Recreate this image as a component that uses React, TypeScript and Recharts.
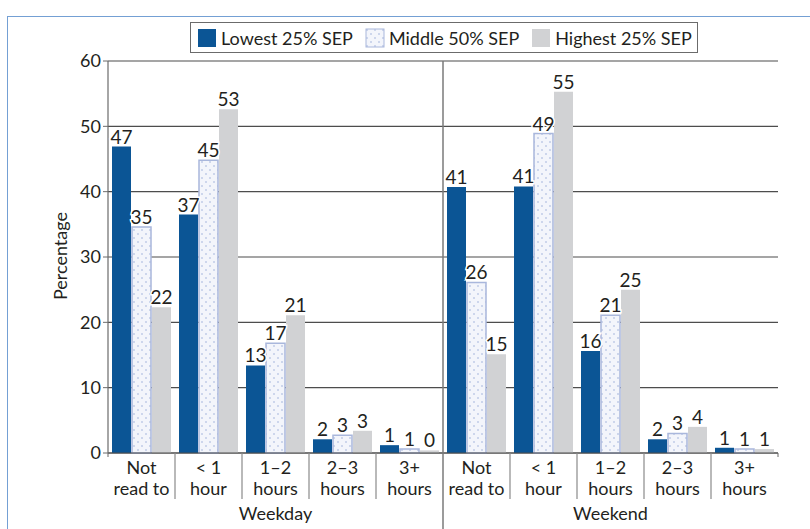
import React from "react";
import { BarChart, Bar, XAxis, YAxis, CartesianGrid, LabelList } from "recharts";

// categories (two lines each), repeated for weekday and weekend
const CATEGORY_LINES = [
  ["Not", "read to"],
  ["< 1", "hour"],
  ["1–2", "hours"],
  ["2–3", "hours"],
  ["3+", "hours"],
];
const PERIODS = ["Weekday", "Weekend"];

const SERIES_NAMES = ["Lowest 25% SEP", "Middle 50% SEP", "Highest 25% SEP"];

// bar heights
const LOWEST = [46.9, 36.5, 13.4, 2.1, 1.2, 40.7, 40.8, 15.6, 2.1, 0.8];
const MIDDLE = [34.6, 44.8, 16.8, 2.7, 0.6, 26.1, 48.9, 21.1, 3.0, 0.6];
const HIGHEST = [22.3, 52.6, 21.1, 3.4, 0.4, 15.1, 55.3, 25.0, 4.0, 0.6];

// printed (rounded) values
const LOWEST_LABELS = [47, 37, 13, 2, 1, 41, 41, 16, 2, 1];
const MIDDLE_LABELS = [35, 45, 17, 3, 1, 26, 49, 21, 3, 1];
const HIGHEST_LABELS = [22, 53, 21, 3, 0, 15, 55, 25, 4, 1];

const Y_TICKS = [0, 10, 20, 30, 40, 50, 60];

const W = 810;
const H = 529;
const PLOT_TOP = 61;
const PLOT_BOTTOM = 453;
const PLOT_LEFT = 108;
const PLOT_RIGHT = 778;
const FONT = "Lato, 'Open Sans', sans-serif";
const TEXT = "#231f20";

const BLUE = "#0b5595";
const GREY = "#d1d2d4";
const DOT_BORDER = "#a9b7dc";

const rows = LOWEST.map((v, i) => ({
  cat: String(i),
  lowest: v,
  middle: MIDDLE[i],
  highest: HIGHEST[i],
  lowestLbl: LOWEST_LABELS[i],
  middleLbl: MIDDLE_LABELS[i],
  highestLbl: HIGHEST_LABELS[i],
}));

const BAND = (PLOT_RIGHT - PLOT_LEFT) / rows.length;

function XTick(props: any) {
  const { x, index } = props;
  const lines = CATEGORY_LINES[index % CATEGORY_LINES.length];
  const left = x - BAND / 2;
  return (
    <g>
      {index % 5 !== 0 && (
        <line x1={left} x2={left} y1={PLOT_BOTTOM} y2={PLOT_BOTTOM + 46} stroke="#8a8a8a" strokeWidth={1.2} />
      )}
      {index === 5 && (
        <line x1={left} x2={left} y1={PLOT_TOP} y2={H} stroke="#7a7a7a" strokeWidth={1.5} />
      )}
      {index === 0 && (
        <line x1={left} x2={left} y1={PLOT_BOTTOM} y2={PLOT_BOTTOM + 4} stroke="#666" />
      )}
      {index === rows.length - 1 && (
        <line x1={left + BAND} x2={left + BAND} y1={PLOT_BOTTOM} y2={PLOT_BOTTOM + 4} stroke="#666" />
      )}
      <text x={x} y={474} textAnchor="middle" fontSize={18} fontFamily={FONT} fill={TEXT}>
        {lines[0]}
      </text>
      <text x={x} y={495} textAnchor="middle" fontSize={18} fontFamily={FONT} fill={TEXT}>
        {lines[1]}
      </text>
      {index % 5 === 2 && (
        <text x={x} y={520} textAnchor="middle" fontSize={18} fontFamily={FONT} fill={TEXT}>
          {PERIODS[Math.floor(index / 5)]}
        </text>
      )}
    </g>
  );
}

function ValueLabel(props: any) {
  const { x, y, width, value } = props;
  return (
    <text
      x={x + width / 2}
      y={y - 3}
      textAnchor="middle"
      fontSize={19}
      fontFamily={FONT}
      fill={TEXT}
      stroke="#fff"
      strokeWidth={3}
      paintOrder="stroke"
    >
      {value}
    </text>
  );
}

function Swatch({ kind }: { kind: number }) {
  if (kind === 1) {
    return (
      <svg width={20} height={20}>
        <defs>
          <pattern id="legDots" width="8" height="8" patternUnits="userSpaceOnUse">
            <rect width="8" height="8" fill="#f3f5fb" />
            <circle cx="2" cy="2" r="0.8" fill="#9dafd9" />
            <circle cx="6" cy="6" r="0.8" fill="#9dafd9" />
          </pattern>
        </defs>
        <rect x={1} y={1} width={18} height={18} fill="url(#legDots)" stroke={DOT_BORDER} strokeWidth={1} />
      </svg>
    );
  }
  return (
    <svg width={20} height={20}>
      <rect x={1} y={1} width={18} height={18} fill={kind === 0 ? BLUE : GREY} />
    </svg>
  );
}

export default function App() {
  return (
    <div style={{ position: "absolute", left: 0, top: 0, width: W, height: H, overflow: "hidden", background: "#fff" }}>
      {/* figure frame */}
      <div
        style={{
          position: "absolute",
          left: 7,
          top: 16,
          width: 900,
          height: 700,
          border: "1.5px solid #74a0d4",
          boxSizing: "border-box",
        }}
      />
      {/* legend box */}
      <div
        style={{
          position: "absolute",
          left: 190,
          top: 22,
          width: 508,
          height: 31,
          border: "1px solid #6b6b6b",
          boxSizing: "border-box",
          display: "flex",
          alignItems: "center",
          fontFamily: FONT,
          fontSize: 18,
          color: TEXT,
          background: "#fff",
          zIndex: 2,
        }}
      >
        {SERIES_NAMES.map((name, i) => (
          <div key={name} style={{ display: "flex", alignItems: "center", marginLeft: i === 0 ? 6 : 12 }}>
            <Swatch kind={i} />
            <span style={{ marginLeft: 4 }}>{name}</span>
          </div>
        ))}
      </div>
      <div style={{ position: "absolute", left: 0, top: 0 }}>
        <BarChart
          width={W}
          height={H}
          data={rows}
          margin={{ top: PLOT_TOP, right: W - PLOT_RIGHT, bottom: 0, left: 48 }}
          barCategoryGap={4}
          barGap={1}
        >
          <defs>
            <pattern id="dots" width="8" height="8" patternUnits="userSpaceOnUse">
              <rect width="8" height="8" fill="#f3f5fb" />
              <circle cx="2" cy="2" r="0.8" fill="#9dafd9" />
              <circle cx="6" cy="6" r="0.8" fill="#9dafd9" />
            </pattern>
          </defs>
          <CartesianGrid vertical={false} stroke="#4d4d4d" strokeWidth={1.2} />
          <XAxis
            dataKey="cat"
            height={H - PLOT_BOTTOM}
            interval={0}
            tickLine={false}
            axisLine={{ stroke: "#4d4d4d", strokeWidth: 1.2 }}
            tick={<XTick />}
          />
          <YAxis
            width={60}
            domain={[0, 60]}
            ticks={Y_TICKS}
            tickSize={5}
            tickMargin={2}
            axisLine={{ stroke: "#6b6b6b", strokeWidth: 1.2 }}
            tickLine={{ stroke: "#6b6b6b" }}
            tick={{ fontSize: 18, fontFamily: FONT, fill: TEXT }}
            label={(p: any) => (
              <text
                x={67}
                y={256}
                transform="rotate(-90, 67, 256)"
                textAnchor="middle"
                fontSize={18}
                fontFamily={FONT}
                fill={TEXT}
              >
                Percentage
              </text>
            )}
          />
          <Bar dataKey="lowest" fill={BLUE} isAnimationActive={false}>
            <LabelList dataKey="lowestLbl" content={<ValueLabel />} />
          </Bar>
          <Bar dataKey="middle" fill="url(#dots)" stroke={DOT_BORDER} strokeWidth={1.5} isAnimationActive={false}>
            <LabelList dataKey="middleLbl" content={<ValueLabel />} />
          </Bar>
          <Bar dataKey="highest" fill={GREY} isAnimationActive={false}>
            <LabelList dataKey="highestLbl" content={<ValueLabel />} />
          </Bar>
        </BarChart>
      </div>
    </div>
  );
}
